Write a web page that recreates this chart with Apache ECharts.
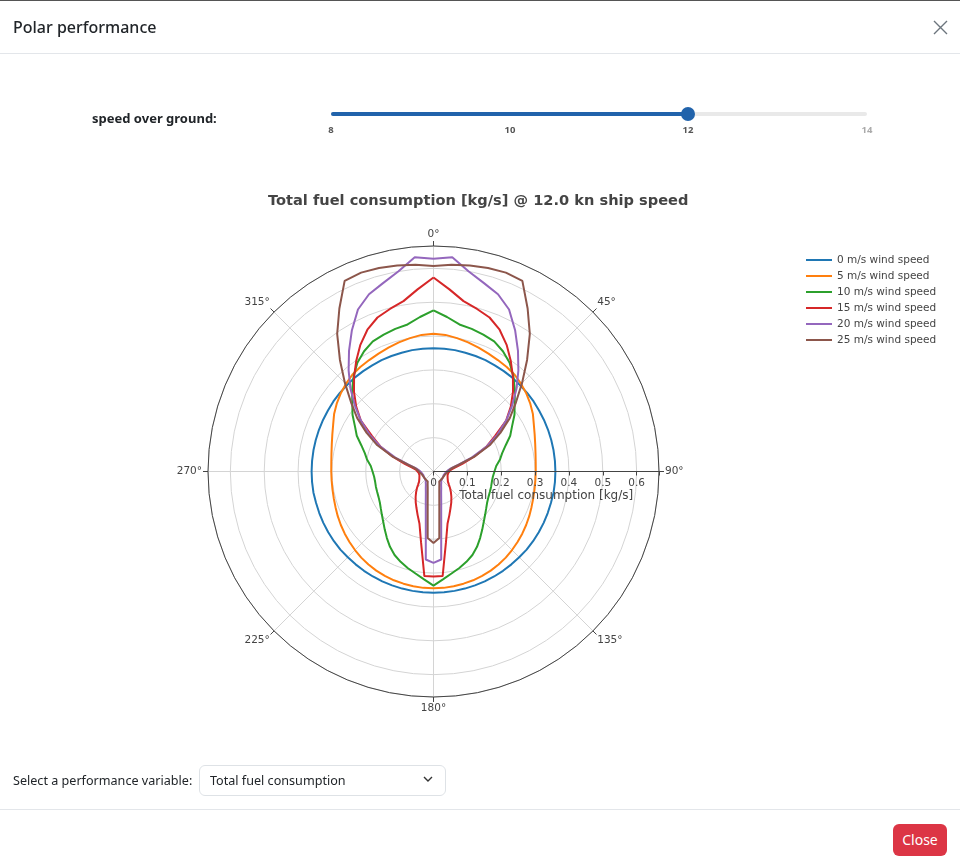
<!DOCTYPE html>
<html><head><meta charset="utf-8">
<script src="https://cdn.jsdelivr.net/npm/echarts@6/dist/echarts.min.js"></script>
<style>
html,body{margin:0;padding:0;background:#fff;}
body{width:960px;height:868px;position:relative;overflow:hidden;font-family:'Noto Sans',sans-serif;color:#212529;}
#chart{position:absolute;left:0;top:0;width:960px;height:868px;}
.abs{position:absolute;}
#topbar{left:0;top:0;width:960px;height:1px;background:#555;}
#htitle{left:13px;top:13px;font-size:16px;line-height:28px;font-weight:500;white-space:nowrap;}
.hline{left:0;width:960px;height:1px;background:#e3e6ea;}
#sog{left:92px;top:108px;font-size:13px;line-height:20px;font-weight:700;white-space:nowrap;}
#rail{left:331px;top:112px;width:536px;height:4px;border-radius:2px;background:#e9e9e9;}
#track{left:331px;top:112px;width:357px;height:4px;border-radius:2px;background:#2163ab;}
#handle{left:681px;top:107px;width:14px;height:14px;border-radius:7px;background:#2163ab;}
.mark{top:123px;font-size:9.5px;line-height:14px;font-weight:700;color:#555;width:30px;text-align:center;}
#selLabel{left:13px;top:771px;font-size:12.6px;line-height:20px;white-space:nowrap;}
#selBox{left:199px;top:765px;width:247px;height:31px;border:1px solid #dee2e6;border-radius:6px;box-sizing:border-box;}
#selText{left:210px;top:771px;font-size:12.6px;line-height:20px;white-space:nowrap;}
#closeBtn{left:893px;top:824px;width:54px;height:32px;border-radius:6px;background:#dc3545;color:#fff;font-size:14px;line-height:32px;text-align:center;}
</style></head>
<body>
<div id="chart"></div>
<div class="abs" id="topbar"></div>
<div class="abs" id="htitle">Polar performance</div>
<svg class="abs" style="left:933px;top:20px" width="15" height="15" viewBox="0 0 15 15"><path d="M1 1 L14 14 M14 1 L1 14" stroke="#6c757d" stroke-width="1.4"/></svg>
<div class="abs hline" style="top:53px"></div>
<div class="abs" id="sog">speed over ground:</div>
<div class="abs" id="rail"></div>
<div class="abs" id="track"></div>
<div class="abs" id="handle"></div>
<div class="abs mark" style="left:316px">8</div>
<div class="abs mark" style="left:495px">10</div>
<div class="abs mark" style="left:673px">12</div>
<div class="abs mark" style="left:852px;color:#aaa">14</div>
<div class="abs" id="selLabel">Select a performance variable:</div>
<div class="abs" id="selBox"></div>
<div class="abs" id="selText">Total fuel consumption</div>
<svg class="abs" style="left:423px;top:776px" width="10" height="7" viewBox="0 0 10 7"><path d="M1 1 L5 5 L9 1" stroke="#333" stroke-width="1.4" fill="none"/></svg>
<div class="abs hline" style="top:809px"></div>
<div class="abs" id="closeBtn">Close</div>
<script>
// Wind direction angles (degrees, 0 = head wind, clockwise)
const angles = [0,5,10,15,20,25,30,35,40,45,50,55,60,65,70,75,80,85,90,95,100,105,110,115,120,125,130,135,140,145,150,155,160,165,170,175,180,185,190,195,200,205,210,215,220,225,230,235,240,245,250,255,260,265,270,275,280,285,290,295,300,305,310,315,320,325,330,335,340,345,350,355,360];
const seriesNames = ['0 m/s wind speed','5 m/s wind speed','10 m/s wind speed','15 m/s wind speed','20 m/s wind speed','25 m/s wind speed'];
const wind0 = [0.364,0.364,0.364,0.363,0.363,0.363,0.362,0.362,0.362,0.361,0.361,0.361,0.360,0.360,0.360,0.360,0.360,0.360,0.360,0.360,0.360,0.359,0.359,0.359,0.359,0.359,0.359,0.358,0.358,0.358,0.358,0.358,0.358,0.358,0.358,0.358,0.358,
  0.358,0.358,0.358,0.358,0.358,0.358,0.358,0.358,0.358,0.359,0.359,0.359,0.359,0.359,0.359,0.360,0.360,0.360,0.360,0.360,0.360,0.360,0.360,0.360,0.361,0.361,0.361,0.362,0.362,0.362,0.363,0.363,0.363,0.364,0.364,0.364];
const wind5 = [0.407,0.405,0.400,0.395,0.389,0.384,0.380,0.377,0.373,0.366,0.358,0.349,0.339,0.327,0.318,0.311,0.306,0.303,0.302,0.302,0.303,0.305,0.308,0.312,0.316,0.320,0.324,0.328,0.332,0.335,0.338,0.340,0.342,0.343,0.344,0.345,0.345,
  0.345,0.344,0.343,0.342,0.340,0.338,0.335,0.332,0.328,0.324,0.320,0.316,0.312,0.308,0.305,0.303,0.302,0.302,0.303,0.306,0.311,0.318,0.327,0.339,0.349,0.358,0.366,0.373,0.377,0.380,0.384,0.389,0.395,0.400,0.405,0.407];
const wind10 = [0.476,0.458,0.441,0.436,0.430,0.424,0.410,0.392,0.367,0.340,0.313,0.292,0.268,0.250,0.227,0.210,0.199,0.186,0.180,0.176,0.175,0.176,0.177,0.179,0.183,0.190,0.199,0.210,0.224,0.240,0.257,0.272,0.284,0.295,0.306,0.320,0.337,
  0.320,0.306,0.295,0.284,0.272,0.257,0.240,0.224,0.210,0.199,0.190,0.183,0.179,0.177,0.176,0.175,0.176,0.180,0.186,0.199,0.210,0.227,0.250,0.268,0.292,0.313,0.340,0.367,0.392,0.410,0.424,0.430,0.436,0.441,0.458,0.476];
const wind15 = [0.573,0.540,0.511,0.497,0.484,0.462,0.432,0.398,0.365,0.332,0.298,0.262,0.210,0.172,0.128,0.088,0.064,0.051,0.046,0.044,0.043,0.043,0.044,0.046,0.048,0.052,0.059,0.069,0.080,0.092,0.105,0.119,0.137,0.160,0.212,0.310,0.310,
  0.310,0.212,0.160,0.137,0.119,0.105,0.092,0.080,0.069,0.059,0.052,0.048,0.046,0.044,0.043,0.043,0.044,0.046,0.051,0.064,0.088,0.128,0.172,0.210,0.262,0.298,0.332,0.365,0.398,0.432,0.462,0.484,0.497,0.511,0.540,0.573];
const wind20 = [0.628,0.635,0.600,0.576,0.557,0.528,0.482,0.435,0.390,0.347,0.303,0.262,0.218,0.172,0.120,0.075,0.052,0.043,0.038,0.036,0.034,0.033,0.032,0.032,0.032,0.033,0.033,0.034,0.035,0.040,0.045,0.054,0.066,0.088,0.131,0.261,0.270,
  0.261,0.131,0.088,0.066,0.054,0.045,0.040,0.035,0.034,0.033,0.033,0.032,0.032,0.032,0.033,0.034,0.036,0.038,0.043,0.052,0.075,0.120,0.172,0.218,0.262,0.303,0.347,0.390,0.435,0.482,0.528,0.557,0.576,0.600,0.635,0.628];
const wind25 = [0.607,0.613,0.618,0.622,0.625,0.621,0.556,0.496,0.430,0.370,0.318,0.275,0.228,0.183,0.128,0.078,0.055,0.047,0.043,0.040,0.037,0.035,0.034,0.033,0.033,0.033,0.033,0.033,0.033,0.033,0.034,0.041,0.050,0.066,0.099,0.197,0.211,
  0.197,0.099,0.066,0.050,0.041,0.034,0.033,0.033,0.033,0.033,0.033,0.033,0.033,0.034,0.035,0.037,0.040,0.043,0.047,0.055,0.078,0.128,0.183,0.228,0.275,0.318,0.370,0.430,0.496,0.556,0.621,0.625,0.622,0.618,0.613,0.607];
const radialMax = 0.666;
const radialStep = 0.1;
const angleStep = 45;

const allValues = [wind0, wind5, wind10, wind15, wind20, wind25];
const colors = ['#1f77b4','#ff7f0e','#2ca02c','#d62728','#9467bd','#8c564b'];
const FONT = 'DejaVu Sans';
const C = [433.5, 471.5], R = 225.5;

const chart = echarts.init(document.getElementById('chart'), null, {renderer: 'canvas'});
const radLabel = v => Math.abs(v / radialStep - Math.round(v / radialStep)) < 1e-6 ? String(+v.toFixed(1)) : '';
chart.setOption({
  animation: false,
  textStyle: {fontFamily: FONT},
  title: {text: 'Total fuel consumption [kg/s] @ 12.0 kn ship speed', left: 263, top: 189,
    textStyle: {fontFamily: FONT, fontSize: 14.6, fontWeight: 'bold', color: '#444'}},
  legend: {orient: 'vertical', left: 801, top: 248, icon: 'rect', itemWidth: 26, itemHeight: 2, itemGap: 2,
    textStyle: {fontFamily: FONT, fontSize: 10.5, color: '#444', lineHeight: 14}, data: seriesNames},
  polar: [{center: C, radius: R}, {center: C, radius: R}],
  angleAxis: [
    {polarIndex: 0, type: 'value', min: 0, max: 360, interval: angleStep, startAngle: 90, clockwise: true,
      axisLine: {show: true, lineStyle: {color: '#444', width: 1}},
      axisTick: {show: true, length: 5, lineStyle: {color: '#444'}},
      axisLabel: {color: '#444', fontSize: 10.5, fontFamily: FONT, margin: 6, formatter: v => v >= 360 ? '' : v + '°'},
      splitLine: {show: true, lineStyle: {color: '#d4d4d4', width: 1}}, z: 1},
    {polarIndex: 1, type: 'value', min: 0, max: 360, startAngle: 0, show: false}
  ],
  radiusAxis: [
    {polarIndex: 0, type: 'value', min: 0, max: radialMax, interval: radialStep,
      axisLine: {show: false}, axisTick: {show: false}, axisLabel: {show: false},
      splitLine: {show: true, lineStyle: {color: '#d4d4d4', width: 1}}, z: 0},
    {polarIndex: 1, type: 'value', min: 0, max: radialMax, interval: radialStep,
      axisLine: {show: true, lineStyle: {color: '#444', width: 1}},
      axisTick: {show: true, length: -4, lineStyle: {color: '#444'}},
      axisLabel: {margin: -6, verticalAlign: 'top', color: '#444', fontSize: 10.5, fontFamily: FONT, formatter: radLabel},
      splitLine: {show: false},
      name: 'Total fuel consumption [kg/s]', nameLocation: 'middle', nameGap: 16,
      nameTextStyle: {color: '#444', fontSize: 12, fontFamily: FONT, verticalAlign: 'top'}, z: 5}
  ],
  series: allValues.map((vals, i) => ({
    name: seriesNames[i], type: 'line', coordinateSystem: 'polar', polarIndex: 0,
    data: vals.map((r, k) => [r, angles[k]]),
    symbol: 'none', smooth: false, color: colors[i],
    lineStyle: {width: 2, color: colors[i]}, z: 3
  }))
});
</script>
</body></html>
